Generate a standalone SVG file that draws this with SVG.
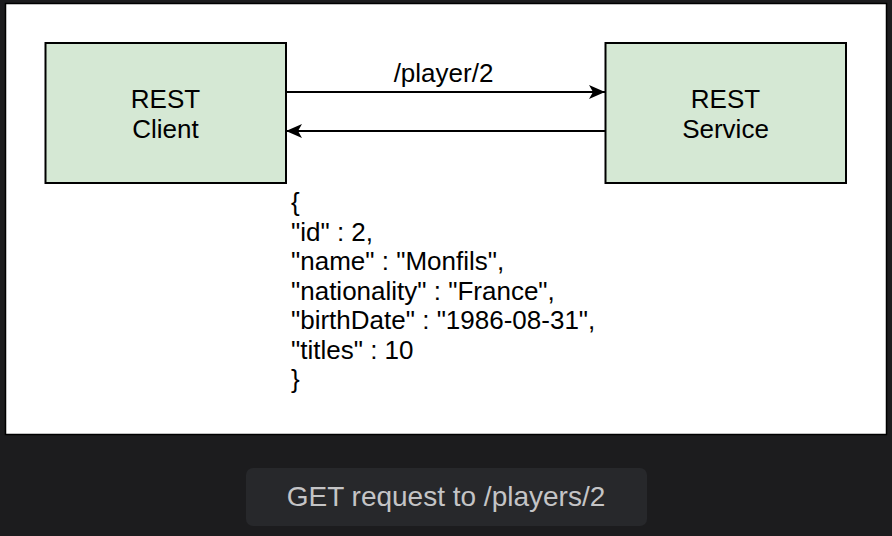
<svg xmlns="http://www.w3.org/2000/svg" width="892" height="536" viewBox="0 0 892 536">
  <style>
    .node rect { fill: #d5e8d4; stroke: #000; stroke-width: 2; }
    .lbl { font-family: "Liberation Sans", Arial, sans-serif; font-size: 26px; fill: #000; }
    .ctr { text-anchor: middle; }
    .edge { stroke: #000; stroke-width: 2; fill: none; }
    .cap { font-family: "Liberation Sans", Arial, sans-serif; font-size: 28px; fill: #c4c4c6; text-anchor: middle; }
  </style>
  <defs>
    <marker id="arrow" viewBox="0 0 16 14" refX="16" refY="7" markerWidth="16" markerHeight="14" markerUnits="userSpaceOnUse" orient="auto">
      <path d="M16,7 L0,0 L4,7 L0,14 Z" fill="#000"/>
    </marker>
  </defs>
  <rect x="0" y="0" width="892" height="536" fill="#1c1c1e"/>
  <rect x="5.5" y="3.5" width="881" height="431" fill="#fff" stroke="#000" stroke-width="1.5"/>

  <g id="connectors">
    <path class="edge" d="M286,92 L605,92" marker-end="url(#arrow)"/>
    <path class="edge" d="M605,131 L286,131" marker-end="url(#arrow)"/>
    <text class="lbl ctr" x="443.5" y="82">/player/2</text>
  </g>

  <g id="rest-client" class="node">
    <rect x="45.5" y="43" width="240.5" height="140"/>
    <text class="lbl ctr" x="165.5" y="108">REST</text>
    <text class="lbl ctr" x="165.5" y="137.5">Client</text>
  </g>

  <g id="rest-service" class="node">
    <rect x="605.5" y="43" width="240.5" height="140"/>
    <text class="lbl ctr" x="725.5" y="108">REST</text>
    <text class="lbl ctr" x="725.5" y="137.5">Service</text>
  </g>

  <g id="response-body">
    <text class="lbl" x="291" y="211">{</text>
    <text class="lbl" x="291" y="240.5">"id" : 2,</text>
    <text class="lbl" x="291" y="270">"name" : "Monfils",</text>
    <text class="lbl" x="291" y="299.5">"nationality" : "France",</text>
    <text class="lbl" x="291" y="329">"birthDate" : "1986-08-31",</text>
    <text class="lbl" x="291" y="358.5">"titles" : 10</text>
    <text class="lbl" x="291" y="388">}</text>
  </g>

  <g id="caption">
    <rect x="246" y="468" width="401" height="58" rx="7" fill="#27282b"/>
    <text class="cap" x="446" y="506">GET request to /players/2</text>
  </g>
</svg>
